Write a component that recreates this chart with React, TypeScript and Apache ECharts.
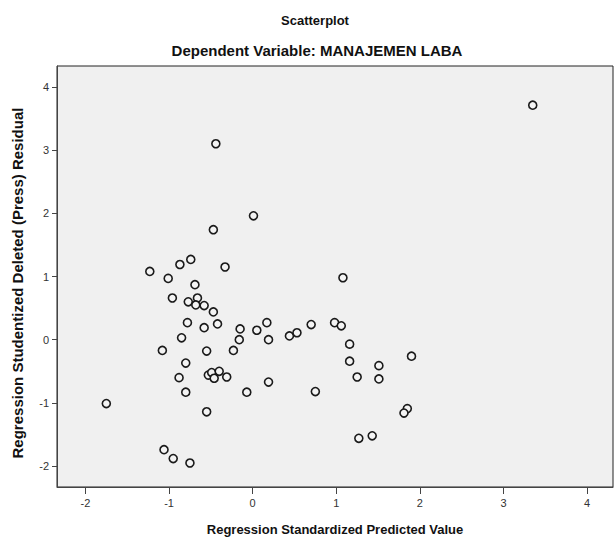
import React, { useEffect, useRef } from "react";
import * as echarts from "echarts";

const xTicks = [-2, -1, 0, 1, 2, 3, 4];
const yTicks = [-2, -1, 0, 1, 2, 3, 4];

const predicted = [
  3.35, -0.44, 0.01, -0.47, -0.74, -0.87, -1.23, -0.33, -1.01, 1.08,
  -0.69, -0.96, -0.66, -0.77, -0.68, -0.58, -0.47, -0.78, -0.58, -0.42,
  -0.15, 0.05, 0.17, -0.16, 0.19, 0.44, 0.53, 0.7, 0.98, 1.06,
  -0.85, 1.16, -1.08, -0.55, -0.23, 1.16, 1.51, 1.9, -0.8, -0.88,
  -0.53, -0.49, -0.46, -0.4, -0.31, 1.25, 1.51, 0.19, -0.8, -0.07,
  0.75, -1.75, -0.55, 1.85, 1.81, 1.27, 1.43, -1.06, -0.95, -0.75,
];
const residual = [
  3.71, 3.1, 1.96, 1.74, 1.27, 1.19, 1.08, 1.15, 0.97, 0.98,
  0.87, 0.66, 0.66, 0.6, 0.55, 0.54, 0.44, 0.27, 0.19, 0.25,
  0.17, 0.15, 0.27, 0.0, 0.0, 0.06, 0.11, 0.24, 0.27, 0.22,
  0.03, -0.07, -0.17, -0.18, -0.17, -0.34, -0.41, -0.26, -0.37, -0.6,
  -0.56, -0.52, -0.61, -0.5, -0.59, -0.59, -0.62, -0.67, -0.83, -0.83,
  -0.82, -1.01, -1.14, -1.09, -1.16, -1.56, -1.52, -1.74, -1.88, -1.95,
];

const titleText = "Scatterplot";
const subtitleText = "Dependent Variable: MANAJEMEN LABA";
const xName = "Regression Standardized Predicted Value";
const yName = "Regression Studentized Deleted (Press) Residual";

export default function App() {
  const ref = useRef<HTMLDivElement>(null);
  useEffect(() => {
    document.body.style.margin = "0";
    const chart = echarts.init(ref.current!, undefined, { renderer: "svg" });
    const font = "'Liberation Sans', Arial, sans-serif";
    chart.setOption({
      animation: false,
      backgroundColor: "#ffffff",
      textStyle: { fontFamily: font },
      graphic: [
        {
          type: "text",
          x: 315,
          y: 20,
          style: {
            text: titleText,
            fontSize: 13,
            fontWeight: "bold",
            fill: "#111",
            fontFamily: font,
            align: "center",
            verticalAlign: "middle",
          },
        },
        {
          type: "text",
          x: 317,
          y: 50,
          style: {
            text: subtitleText,
            fontSize: 15,
            fontWeight: "bold",
            fill: "#111",
            fontFamily: font,
            align: "center",
            verticalAlign: "middle",
          },
        },
        {
          type: "text",
          x: 17,
          y: 283,
          rotation: Math.PI / 2,
          style: {
            text: yName,
            fontSize: 15,
            fontWeight: "bold",
            fill: "#111",
            fontFamily: font,
            align: "center",
            verticalAlign: "middle",
          },
        },
      ],
      grid: {
        left: 57,
        top: 66,
        right: 2,
        bottom: 52,
        show: true,
        backgroundColor: "#f0f0f0",
        borderColor: "#222",
        borderWidth: 1,
      },
      xAxis: {
        type: "value",
        min: -2.34,
        max: 4.31,
        name: xName,
        nameLocation: "middle",
        nameGap: 36,
        nameTextStyle: { fontSize: 13, fontWeight: "bold", color: "#111", fontFamily: font },
        axisLine: { show: true, onZero: false, lineStyle: { color: "#444", width: 1 } },
        axisTick: { show: true, inside: false, customValues: xTicks, length: 7, lineStyle: { color: "#444" } },
        axisLabel: { customValues: xTicks, fontSize: 11, color: "#333", margin: 10, fontFamily: font },
        splitLine: { show: false },
      },
      yAxis: {
        type: "value",
        min: -2.33,
        max: 4.33,
        axisLine: { show: true, onZero: false, lineStyle: { color: "#444", width: 1 } },
        axisTick: { show: true, inside: false, customValues: yTicks, length: 5, lineStyle: { color: "#444" } },
        axisLabel: { customValues: yTicks, fontSize: 11, color: "#333", margin: 8, fontFamily: font },
        splitLine: { show: false },
      },
      series: [
        {
          type: "scatter",
          data: predicted.map((x, i) => [x, residual[i]]),
          symbol: "circle",
          symbolSize: 8,
          itemStyle: {
            color: "#f4f4f4",
            borderColor: "#1a1a1a",
            borderWidth: 1.6,
            opacity: 1,
          },
        },
      ],
    });
    return () => chart.dispose();
  }, []);
  return <div ref={ref} style={{ width: 615, height: 541 }} />;
}
